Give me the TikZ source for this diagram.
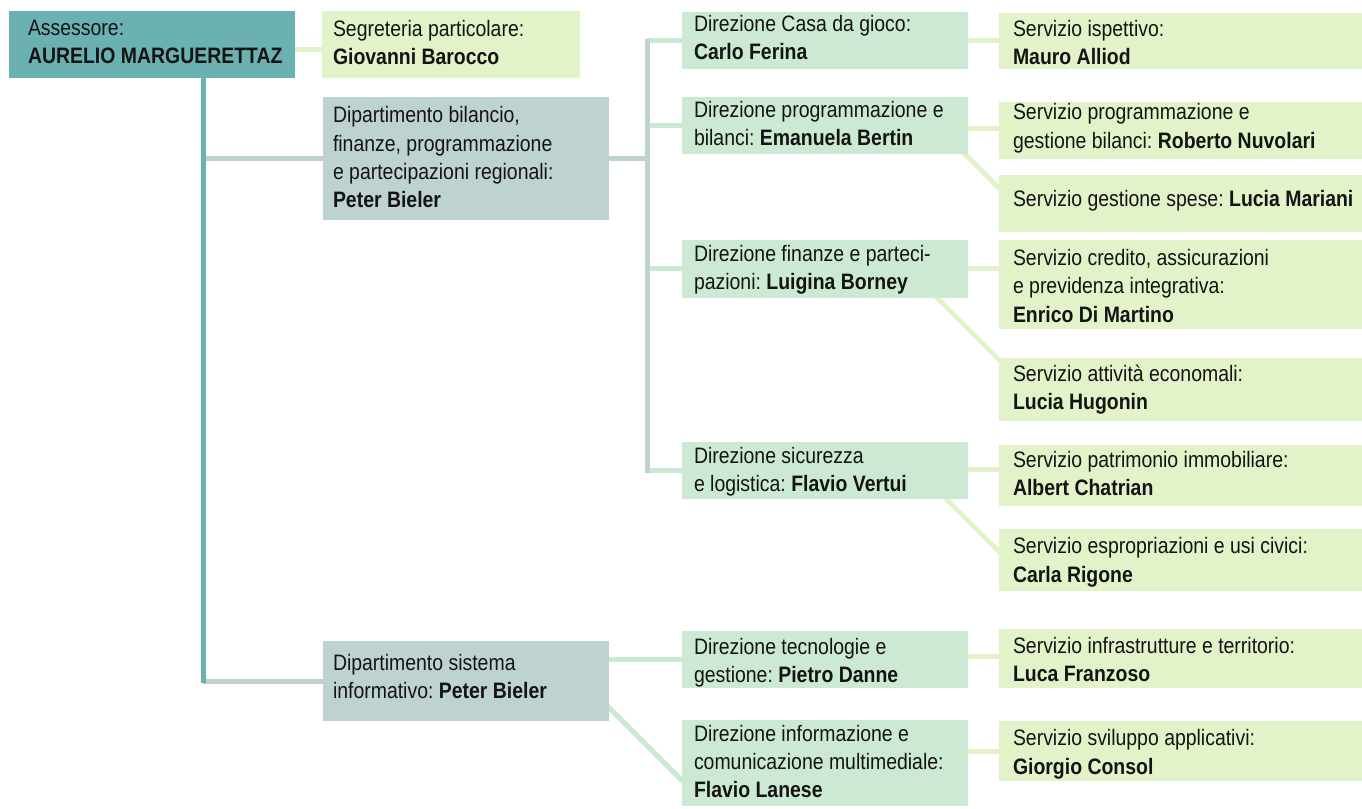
\documentclass[tikz,border=0pt]{standalone}
\usepackage{fontspec}
\setmainfont{Liberation Sans}[FakeStretch=0.87]
\frenchspacing
\usetikzlibrary{fit,calc}
\pgfdeclarelayer{background}
\pgfsetlayers{background,main}
\definecolor{tealc}{HTML}{6BB1B1}
\definecolor{greyc}{HTML}{BED2D2}
\definecolor{mintc}{HTML}{CCEAD3}
\definecolor{ygc}{HTML}{E3F3C9}
\tikzset{
  boxbase/.style={inner sep=0pt, outer sep=0pt, draw=none},
  tealbox/.style={boxbase, fill=tealc},
  greybox/.style={boxbase, fill=greyc},
  mintbox/.style={boxbase, fill=mintc},
  ygbox/.style={boxbase, fill=ygc},
  txt/.style={inner sep=0pt, outer sep=0pt, align=left, anchor=north west,
    font=\frenchspacing\fontsize{16.76pt}{21.3pt}\selectfont, text=black!92},
  ln/.style={line width=3.75pt},
  tealln/.style={ln, draw=tealc},
  greyln/.style={ln, draw=greyc},
  mintln/.style={ln, draw=mintc},
  ygln/.style={ln, draw=ygc},
}
% name, x1, y1, x2, y2, style, text x, first baseline, text
\newcommand\orgbox[9]{%
  \node[#6, fit={(#2,#3) (#4,#5)}] (#1) {};
  \node[txt] (#1-t) at ($(#1.north west)+(#7-#2,#8-20-#3)$) {\rule{0pt}{15pt}#9};%
}
\begin{document}
\begin{tikzpicture}[x=0.75pt,y=-0.75pt]
\useasboundingbox (0,0) rectangle (1362,808);

\orgbox{ass}{9}{11}{295}{78}{tealbox}{28}{35}{Assessore:\\\textbf{AURELIO MARGUERETTAZ}}
\orgbox{seg}{322}{11}{580}{78}{ygbox}{333}{36}{Segreteria particolare:\\\textbf{Giovanni Barocco}}
\orgbox{dipb}{323}{97}{609}{220}{greybox}{333}{122.7}{Dipartimento bilancio,\\finanze, programmazione\\e partecipazioni regionali:\\\textbf{Peter Bieler}}
\orgbox{dips}{323}{641}{609}{721}{greybox}{333}{670}{Dipartimento sistema\\informativo: \textbf{Peter Bieler}}

\orgbox{dcasa}{682}{12}{968}{69}{mintbox}{694}{31}{Direzione Casa da gioco:\\\textbf{Carlo Ferina}}
\orgbox{dprog}{682}{97}{968}{154}{mintbox}{694}{117}{Direzione programmazione e\\bilanci: \textbf{Emanuela Bertin}}
\orgbox{dfin}{682}{240}{968}{297.7}{mintbox}{694}{261.3}{Direzione finanze e parteci-\\pazioni: \textbf{Luigina Borney}}
\orgbox{dsic}{682}{442}{968}{499.3}{mintbox}{694}{463}{Direzione sicurezza\\e logistica: \textbf{Flavio Vertui}}
\orgbox{dtec}{682}{631}{968}{688.3}{mintbox}{694}{654.3}{Direzione tecnologie e\\gestione: \textbf{Pietro Danne}}
\orgbox{dinfo}{682}{720}{968}{806}{mintbox}{694}{741}{Direzione informazione e\\comunicazione multimediale:\\\textbf{Flavio Lanese}}

\orgbox{sisp}{999}{12.7}{1362}{69.3}{ygbox}{1013}{36.2}{Servizio ispettivo:\\\textbf{Mauro Alliod}}
\orgbox{sprog}{999}{101.7}{1362}{159}{ygbox}{1013}{119.8}{Servizio programmazione e\\gestione bilanci: \textbf{Roberto Nuvolari}}
\orgbox{sspese}{999}{175}{1362}{231.7}{ygbox}{1013}{206.8}{Servizio gestione spese: \textbf{Lucia Mariani}}
\orgbox{scred}{999}{240}{1362}{329}{ygbox}{1013}{265.4}{Servizio credito, assicurazioni\\e previdenza integrativa:\\\textbf{Enrico Di Martino}}
\orgbox{satt}{999}{357.7}{1362}{421}{ygbox}{1013}{381.3}{Servizio attività economali:\\\textbf{Lucia Hugonin}}
\orgbox{spat}{999}{445}{1362}{506}{ygbox}{1013}{467.5}{Servizio patrimonio immobiliare:\\\textbf{Albert Chatrian}}
\orgbox{sesp}{999}{529}{1362}{590.7}{ygbox}{1013}{553.7}{Servizio espropriazioni e usi civici:\\\textbf{Carla Rigone}}
\orgbox{sinf}{999}{629}{1362}{688}{ygbox}{1013}{653.5}{Servizio infrastrutture e territorio:\\\textbf{Luca Franzoso}}
\orgbox{ssvil}{999}{721}{1362}{781}{ygbox}{1013}{745.8}{Servizio sviluppo applicativi:\\\textbf{Giorgio Consol}}

\coordinate (trunk) at (203,0);
\coordinate (bar) at (647,0);

\begin{pgfonlayer}{background}
  % assessore to segreteria
  \draw[ygln] ($(ass.east)+(0,5)$) -- ($(seg.west)+(0,5)$);
  % branches to departments
  \draw[greyln] (trunk |- dipb.west) -- (dipb.west);
  \draw[greyln] (trunk |- dips.west) -- (dips.west);
  \draw[tealln] (ass.south -| trunk) -- ($(trunk |- dips.west)+(0,1.9)$);
  % department bilancio bar
  \draw[mintln] (bar |- dcasa.west) -- (dcasa.west);
  \draw[mintln] (bar |- dprog.west) -- (dprog.west);
  \draw[mintln] (bar |- dfin.west) -- (dfin.west);
  \draw[mintln] (bar |- dsic.west) -- (dsic.west);
  \draw[greyln] (dipb.east) -- (dipb.east -| bar);
  \draw[greyln] ($(bar |- dcasa.west)+(0,-1.9)$) -- ($(bar |- dsic.west)+(0,1.9)$);
  % department sistema
  \draw[mintln] (dtec.west -| dips.east) -- (dtec.west);
  \draw[mintln] ($(dips.south east)+(-7,-20.5)$) -- ($(dinfo.north west)+(7,67.5)$);
  % direzioni to servizi
  \draw[ygln] (dcasa.east) -- (sisp.west |- dcasa.east);
  \draw[ygln] ($(sprog.west -| dprog.east)+(0,-1.5)$) -- ($(sprog.west)+(0,-1.5)$);
  \draw[ygln] ($(dprog.south east)+(-10,-7)$) -- ($(sspese.north west)+(7,20)$);
  \draw[ygln] (dfin.east) -- (dfin.east -| scred.west);
  \draw[ygln] ($(dfin.south east)+(-38,-7)$) -- ($(satt.north west)+(7,9)$);
  \draw[ygln] ($(dsic.east)+(0,-1.3)$) -- ($(dsic.east -| spat.west)+(0,-1.3)$);
  \draw[ygln] ($(dsic.south east)+(-29,-7.7)$) -- ($(sesp.north west)+(7,29.6)$);
  \draw[ygln] ($(dtec.east)+(0,-3)$) -- ($(dtec.east -| sinf.west)+(0,-3)$);
  \draw[ygln] (ssvil.west -| dinfo.east) -- (ssvil.west);
\end{pgfonlayer}
\end{tikzpicture}
\end{document}
